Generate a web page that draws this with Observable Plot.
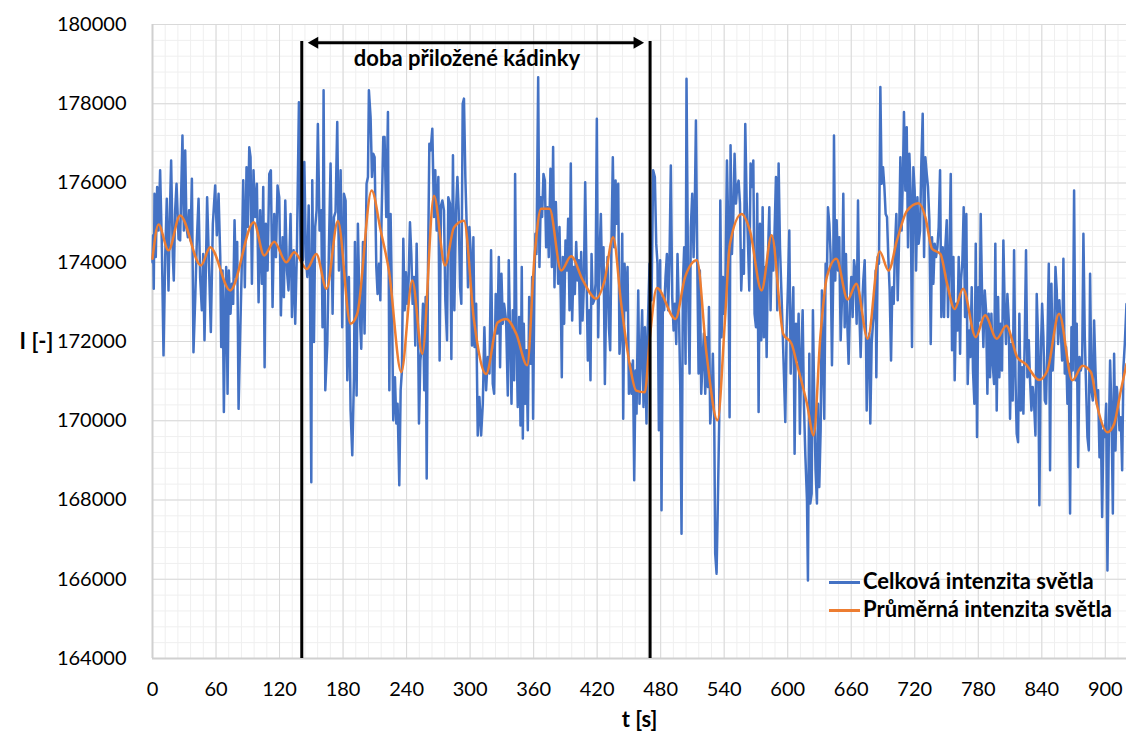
<!DOCTYPE html>
<html>
<head>
<meta charset="utf-8">
<script src="https://cdn.jsdelivr.net/npm/d3@7"></script>
<script src="https://cdn.jsdelivr.net/npm/@observablehq/plot@0.6"></script>
<style>
  body { margin: 0; background: #fff; }
  #wrap { position: relative; width: 1126px; height: 738px; font-family: Lato, "Open Sans", sans-serif; }
  .legend { position: absolute; left: 829px; top: 567px; font-size: 22px; font-weight: bold; color: #000; }
  .legend .row { height: 28px; line-height: 28px; white-space: nowrap; }
  .legend .sw { display: inline-block; width: 31px; height: 3px; vertical-align: middle; margin-right: 3px; position: relative; top: -1px; }
</style>
</head>
<body>
<div id="wrap">
  <div class="legend">
    <div class="row"><span class="sw" style="background:#4472C4"></span>Celková intenzita světla</div>
    <div class="row"><span class="sw" style="background:#ED7D31"></span>Průměrná intenzita světla</div>
  </div>
</div>
<script>
// ---- Data ----
const xTicks = [0, 60, 120, 180, 240, 300, 360, 420, 480, 540, 600, 660, 720, 780, 840, 900];
const yTicks = [164000, 166000, 168000, 170000, 172000, 174000, 176000, 178000, 180000];

// Celková intenzita světla (time [s], intensity)
const tBlue = [
0,0.6,1.2,1.9,3.1,4.4,5.7,7.2,8.8,10.4,12.0,13.5,15.1,16.4,17.6,19.2,20.1,21.4,22.7,24.6,26.1,28.3,29.6,30.9,32.1,33.4,34.6,35.9,37.2,38.7,
40.3,41.9,43.5,45.0,46.6,47.9,49.1,50.4,51.6,53.5,55.1,57.0,59.2,60.8,62.4,64.0,64.9,66.2,67.4,68.7,69.6,70.9,72.1,73.7,75.0,76.2,77.5,78.7,80.0,81.3,
82.8,84.1,85.7,87.2,88.8,90.1,91.4,92.6,93.9,95.4,97.0,98.6,100.2,101.7,103.3,104.6,105.9,107.1,108.7,110.3,111.8,113.4,115.0,116.6,118.1,119.7,121.3,122.9,124.1,125.4,
127.0,128.5,130.4,131.7,133.3,134.8,136.4,138.3,139.9,142.1,143.4,144.9,146.2,147.5,148.7,150.0,
150.9,152.5,153.7,155.0,156.2,157.8,159.4,160.6,161.6,163.2,165.1,166.6,168.2,170.1,171.4,172.9,174.5,176.1,177.7,179.2,180.8,182.4,184.0,185.5,187.1,188.7,190.3,191.2,192.8,194.0,
195.6,197.2,198.8,200.3,202.2,203.5,204.4,206.0,207.3,208.5,209.8,211.4,212.6,213.9,215.2,216.4,218.0,219.2,220.8,222.4,223.7,224.9,226.2,227.4,229.0,230.3,231.5,233.1,234.4,235.6,
236.9,238.2,239.4,240.7,241.9,243.2,244.5,245.7,247.0,248.2,249.5,250.8,251.7,253.0,254.2,255.5,256.7,258.0,259.0,260.2,261.5,262.7,264.3,265.9,267.1,268.4,270.0,271.2,272.5,273.8,
275.3,276.6,278.2,279.4,281.0,282.3,283.8,285.1,286.7,288.0,289.2,290.5,291.7,293.0,294.2,295.5,296.8,298.0,299.3,300.5,301.8,303.1,
304.2,305.7,307.2,308.8,310.4,312.0,313.5,315.1,316.7,318.3,319.8,321.4,322.7,324.2,325.8,327.1,328.3,329.6,330.9,332.1,334.0,335.6,336.5,337.8,339.1,340.3,341.6,342.5,343.8,345.0,
346.3,347.6,348.8,349.8,350.7,352.0,353.2,354.5,355.8,357.3,358.6,359.5,360.8,361.7,362.7,364.3,365.5,366.8,368.0,369.3,370.6,371.8,373.1,374.3,375.9,377.2,378.4,379.7,381.0,382.2,
383.2,384.4,385.7,386.6,387.6,388.8,390.1,391.4,392.6,393.9,395.1,396.4,397.7,398.9,400.2,401.4,402.7,404.0,404.9,406.2,407.4,408.7,410.0,411.2,412.5,413.7,414.7,415.9,417.2,418.5,
419.7,421.0,422.2,423.5,424.8,426.0,427.3,428.5,429.8,431.1,432.3,433.6,434.8,436.1,437.4,438.6,439.9,441.1,442.4,443.7,444.6,445.9,447.4,448.7,450.0,451.2,452.5,453.8,455.0,456.3,457.2,
458.8,460.0,461.3,462.5,463.8,465.1,466.6,467.6,469.5,471.4,472.9,474.5,475.8,477.0,478.3,479.5,480.8,482.1,483.3,484.6,485.9,487.1,488.4,489.6,490.9,492.2,493.4,494.7,495.9,497.2,
498.5,499.7,501.0,502.2,503.5,504.4,506.0,507.3,508.5,509.8,511.1,512.3,513.3,514.5,515.8,517.0,518.3,519.6,520.8,522.1,523.3,524.6,525.6,526.8,528.1,529.3,530.6,531.5,532.8,534.1,
535.3,536.3,537.5,538.8,540.0,541.3,542.6,543.8,545.1,546.0,547.3,548.6,549.8,551.1,552.3,553.6,554.9,556.1,557.4,558.6,559.9,561.2,562.4,563.7,564.9,566.2,567.5,568.7,570.0,571.2,
572.5,573.8,575.0,576.3,577.5,578.8,580.1,581.3,582.6,583.8,585.1,586.4,587.6,588.9,590.1,591.4,592.7,593.9,595.2,596.4,597.7,598.9,600.2,601.5,602.8,604.0,605.3,606.5,607.8,609.1,
610.3,611.5,612.8,614.1,615.3,616.6,618.2,619.1,620.4,621.3,622.6,623.8,625.1,626.3,627.6,628.6,629.8,631.1,632.3,633.6,634.5,635.8,637.1,638.0,639.3,640.5,641.8,643.0,643.7,644.9,
646.2,647.5,648.7,650.0,651.2,652.5,653.8,655.0,656.3,657.5,658.8,660.1,661.3,662.6,663.8,665.1,666.4,667.6,668.9,670.1,671.4,672.7,673.9,674.6,675.8,677.1,678.0,679.3,680.5,681.8,
683.1,683.7,685.0,686.2,687.5,688.7,690.0,691.3,692.5,693.8,695.0,696.3,697.6,698.8,700.1,701.3,702.6,703.9,705.1,706.4,707.6,708.9,709.8,711.1,712.4,713.6,714.9,716.1,717.4,718.7,
719.9,721.2,722.5,723.7,725.0,726.2,727.5,728.8,730.0,731.3,732.5,733.8,735.1,736.3,737.6,738.8,740.1,741.4,742.6,743.9,745.1,746.4,747.7,748.9,750.2,751.4,752.7,754.0,755.2,756.5,
757.7,759.0,760.3,761.5,762.8,
763.7,765.0,766.2,767.5,768.7,770.0,771.3,772.5,773.8,775.0,776.3,777.6,778.8,780.1,781.3,782.3,783.5,784.8,786.1,787.3,788.6,789.8,791.1,792.4,793.6,794.9,796.1,797.4,798.7,799.9,
801.2,802.4,803.7,805.0,806.2,807.5,808.8,810.0,811.3,812.5,813.8,815.1,816.3,817.6,818.8,820.1,821.4,822.6,823.9,825.1,826.4,827.7,828.9,830.2,831.4,832.7,834.0,835.2,836.5,837.7,
839.0,840.3,841.5,842.8,844.0,845.3,846.6,847.8,849.1,850.3,851.6,852.9,854.1,855.4,856.6,857.9,859.2,860.4,861.7,862.9,864.2,865.5,866.7,868.0,869.2,870.5,871.8,873.0,874.3,875.6,
876.8,878.1,879.3,880.6,881.9,883.1,884.4,885.6,886.9,888.2,889.4,890.7,891.9,893.2,894.5,895.7,897.0,898.2,899.5,900.8,902.0,903.3,904.5,905.8,907.1,908.3,909.6,910.8,912.1,913.4,
914.6,915.9,917.1,918.4,920.0
];
const iBlue = [
174000,174680,173330,175730,174130,175900,174800,176320,174470,171650,174130,175600,173290,175220,176570,174130,173540,175310,175980,174590,174550,177200,174800,176820,174890,174630,175310,174550,176110,171730,
173040,174550,175600,173630,172790,174210,172030,173790,175640,173790,172240,174970,175940,174680,175730,174130,171860,173790,170220,172950,173880,170680,173790,172700,173460,172950,175060,173630,174510,170300,
172150,173630,176070,173370,176400,174890,176900,176650,173460,176320,175140,175980,172990,175310,173460,175900,171350,174970,173790,176230,176320,172870,175220,174130,175940,175640,172660,174630,173120,175560,
173790,173290,175220,172620,174300,172450,174300,178040,174130,174050,176530,174130,173630,175430,173630,168450,
176070,171990,174890,175310,177490,174800,175310,172360,178340,170770,171940,174300,176490,172700,175140,175270,177540,173790,176320,172360,175730,175560,171020,173630,170260,169130,171100,174510,170640,174970,
172790,171820,174510,172200,175980,176150,178340,177660,176150,176740,176650,173880,173200,173960,173040,175140,177160,177160,175140,177790,170770,175220,172950,170010,171100,169930,170430,168370,170770,171270,
174590,172790,173750,172950,173540,175010,174170,172950,173630,171900,174470,172450,169930,171520,171860,172950,170770,173120,168540,173790,176990,176820,177370,175140,176320,174800,176150,171520,175430,175560,
175310,173040,172030,175640,175480,171560,176700,172790,175310,176150,175310,173370,172950,178000,178130,176150,174890,173370,174890,174300,171900,174630,
171860,172950,169630,170600,169630,170430,172360,170770,171610,171190,174300,170930,170680,173200,172200,174130,171350,173710,172450,172950,172530,170640,174050,172110,170430,172790,171020,176230,172110,170350,
172620,169880,173880,169550,172450,170430,171780,169760,173120,171440,173630,170050,173630,174720,174210,178670,173880,175640,175140,176230,176060,174380,175390,174130,176360,173880,176910,173370,175520,174470,
173460,174890,173040,171100,174130,172450,174550,173790,175100,172790,176490,172530,173880,173200,174510,173540,174050,172200,174260,172530,173370,176020,173630,171520,172790,171020,174210,172950,173040,173460,
177620,172110,174130,175220,173370,174380,170930,173120,174130,172360,171780,174630,176650,174380,176060,174970,175980,171690,172280,174720,170050,173960,172790,173880,170680,171440,170680,171520,168500,171270,170180,
173290,170430,171690,172790,170350,172360,169930,172110,173960,173040,176320,176150,174470,173960,169760,174050,167740,173120,172790,173630,174210,172790,174210,176440,173120,172280,172950,171940,174210,172790,
170850,167150,173460,174380,171440,178630,173120,171190,174890,175730,174130,175560,177580,174130,171190,173790,170680,171520,172200,170680,172110,170850,172870,169930,170430,171690,170010,166650,166140,168080,
170010,175560,172110,173630,172700,173710,176570,174890,170090,176950,174210,175140,176740,175480,175900,176060,175480,173290,174300,173710,177490,175560,174550,173290,176490,175900,176570,172700,172360,175730,
170220,174970,172030,175390,172110,173880,171610,174130,175390,172790,174630,173790,174800,176150,172790,176490,174380,173370,172280,171190,169970,172200,173370,174800,171190,172280,173370,169170,172450,171520,
172700,169670,171610,172790,170430,169170,167990,165970,171690,167910,168160,172790,170430,168750,167910,170430,168330,169760,173290,171270,170050,173960,173710,175390,174970,174210,171400,173630,177200,173540,
175060,173790,174630,172030,173040,175730,172360,174210,172450,171440,172950,173630,172620,174050,173790,172450,175560,172790,171610,172790,173540,174050,172200,170260,171940,172200,169930,171940,172450,172790,
173790,171100,174130,173960,178420,175980,176400,175900,175220,175140,174130,173290,171520,173370,172950,174380,175220,173040,174470,176650,174800,176320,177790,175810,177410,174380,176740,175810,171860,176400,
175810,173790,175640,174470,174800,176490,177750,174130,176650,176230,175900,175060,171940,174630,173460,174470,174130,174380,174890,176320,172620,174380,172620,174380,175060,172620,174130,176230,171780,174130,
171020,172950,172280,174130,171690,
173540,174050,175390,172620,175220,170930,172280,171610,173370,171270,170430,174470,169590,173370,172530,175220,173290,171860,173290,172790,170680,172700,171100,172700,171440,170930,174470,170260,173120,171100,
172450,171270,174550,172790,171940,173200,172530,170050,171940,170510,174300,171100,169670,169460,172700,170260,171350,170180,172110,174300,171100,172030,171020,170260,170850,170430,169630,173200,172030,167870,
171610,172950,172110,170510,170430,171940,173960,168750,173460,171270,171940,173880,173290,171940,173040,172280,171520,174090,171190,171860,170430,171440,167660,172360,171270,175810,171020,172450,168830,171610,
171270,171440,174720,172110,170770,169590,169250,173710,170770,170510,172530,171270,170430,170770,169080,170010,167570,169760,169590,170430,166220,169590,171520,170260,167660,171690,169250,170850,170430,169760,
170090,168750,171350,171940,172950
];

// Průměrná intenzita světla (time [s], intensity) – smoothed curve turning points
const tOrange = [0,5.7,15.1,26.1,45.7,54.5,73.4,95.7,105.5,115,126.3,133.9,145.8,154.7,164.4,175.1,187.1,193.4,207,215.5,223.3,235,245.4,254.8,265.9,276.3,284.8,294.2,303.7,315.1,
326,334,343.5,353.9,360.8,367,375,386,395.4,406.5,419,427,435.1,442.7,450.6,456.9,465,469.8,476.4,494,503,514.2,523.3,533.7,540.7,545.4,556.4,564.3,575.3,584.8,
595.8,603.7,609,618.2,624.5,630.8,637,645.9,656.6,664.8,675.5,686.8,695.3,703.2,712.7,723.7,730,736.3,744.2,750.5,757.7,765.6,777.6,786.4,797.4,806.5,816.9,824.8,837.4,845.3,
856.3,868.9,878.4,886.3,892.6,902,908.3,914.6,920];
const iOrange = [174090,174950,174300,175180,173920,174380,173290,175010,174170,174520,174000,174250,173830,174210,173330,175040,172450,172700,175810,174800,173790,171230,173540,171690,175680,173920,174880,175050,172530,171180,
172480,172570,172200,171400,174130,175350,175350,173790,174150,173540,173080,173540,174630,172950,171440,170760,170720,172110,173350,172570,173620,174050,171690,170010,172530,174460,175220,174800,173290,174680,
172190,171940,171400,170430,169630,172110,173630,174090,173060,173460,172070,174270,173790,174550,175300,175490,175140,174340,174210,173460,172820,173330,172110,172660,172070,172400,171600,171430,171030,171270,
172700,171020,171390,171230,170340,169710,169920,170760,171430];

// Annotation (period with the beaker applied)
const phaseBounds = [141, 470];
const arrowLevel = 179540;
const phaseLabel = "doba přiložené kádinky";
const phaseLabelT = 297;

const blue = tBlue.map((t, i) => ({t, v: iBlue[i]}));
const orange = tOrange.map((t, i) => ({t, v: iOrange[i]}));
const minorX = d3.range(0, 921, 12);
const minorY = d3.range(164000, 180001, 400);

const boldText = {fontWeight: "bold", fontSize: 22, fill: "#000", lineAnchor: "middle", textAnchor: "middle", text: d => d};

const chart = Plot.plot({
  width: 1126,
  height: 738,
  marginLeft: 152,
  marginRight: 0,
  marginTop: 24,
  marginBottom: 80,
  style: {fontFamily: "Lato, 'Open Sans', sans-serif", fontSize: "20px", color: "#000", background: "#fff", overflow: "visible"},
  x: {domain: [0, 920], ticks: xTicks, tickFormat: d => String(d), tickSize: 0, tickPadding: 23, label: null},
  y: {domain: [164000, 180000], ticks: yTicks, tickFormat: d => String(d), tickSize: 0, tickPadding: 26, label: null},
  marks: [
    Plot.ruleX(minorX, {stroke: "#efefef", strokeWidth: 1}),
    Plot.ruleY(minorY, {stroke: "#efefef", strokeWidth: 1}),
    Plot.ruleX(xTicks, {stroke: "#d9d9d9", strokeWidth: 1}),
    Plot.ruleY(yTicks, {stroke: "#d9d9d9", strokeWidth: 1}),
    Plot.ruleX([0], {stroke: "#d0d0d0", strokeWidth: 2}),
    Plot.ruleY([164000], {stroke: "#d0d0d0", strokeWidth: 2}),
    Plot.line(blue, {x: "t", y: "v", stroke: "#4472C4", strokeWidth: 2.5, strokeLinejoin: "round"}),
    Plot.line(orange, {x: "t", y: "v", stroke: "#ED7D31", strokeWidth: 2.5, curve: "monotone-x"}),
    Plot.ruleX(phaseBounds, {stroke: "#000", strokeWidth: 3, insetTop: 17}),
    Plot.ruleY([arrowLevel], {x1: phaseBounds[0], x2: phaseBounds[1], stroke: "#000", strokeWidth: 3, insetLeft: 14, insetRight: 14}),
    Plot.dot([phaseBounds[0]], {x: d => d, y: arrowLevel, symbol: "triangle", r: 4.5, fill: "#000", stroke: null, rotate: -90, dx: 13}),
    Plot.dot([phaseBounds[1]], {x: d => d, y: arrowLevel, symbol: "triangle", r: 4.5, fill: "#000", stroke: null, rotate: 90, dx: -13}),
    Plot.text([phaseLabel], {...boldText, x: phaseLabelT, frameAnchor: "top", dy: 34}),
    Plot.text(["I [-]"], {...boldText, frameAnchor: "left", dx: -116}),
    Plot.text(["t [s]"], {...boldText, frameAnchor: "bottom", dy: 61})
  ]
});
chart.style.position = "absolute";
chart.style.left = "0";
chart.style.top = "0";
const wrap = document.getElementById("wrap");
wrap.insertBefore(chart, wrap.firstChild);
</script>
</body>
</html>
